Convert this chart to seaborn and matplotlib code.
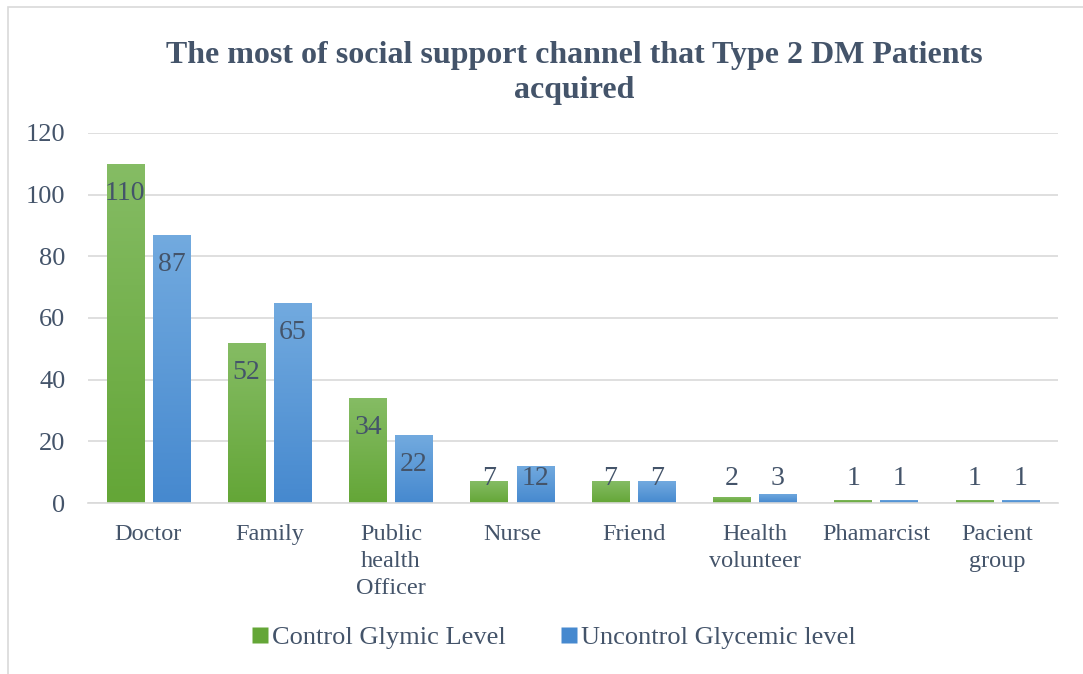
import numpy as np
import pandas as pd
import matplotlib
matplotlib.use("Agg")
import matplotlib.pyplot as plt
import seaborn as sns
from matplotlib.patches import Rectangle
from matplotlib.lines import Line2D

categories = ["Doctor", "Family", "Public\nhealth\nOfficer", "Nurse", "Friend",
              "Health\nvolunteer", "Phamarcist", "Pacient\ngroup"]
control = [110, 52, 34, 7, 7, 2, 1, 1]
uncontrol = [87, 65, 22, 12, 7, 3, 1, 1]
series = ["Control Glymic Level", "Uncontrol Glycemic level"]
yticks = [0, 20, 40, 60, 80, 100, 120]
title = "The most of social support channel that Type 2 DM Patients\nacquired"

TXT = "#44546A"
sns.set_theme(style="white")
plt.rcParams["font.family"] = ["Liberation Serif", "DejaVu Serif"]

df = pd.DataFrame({
    "cat": categories * 2,
    "val": control + uncontrol,
    "series": [series[0]] * len(categories) + [series[1]] * len(categories),
})

fig = plt.figure(figsize=(10.83, 6.74), dpi=100)
ax = fig.add_axes([0.081, 0.2537, 0.896, 0.549])

grad = {series[0]: ("#85BC64", "#64A637"), series[1]: ("#72AADF", "#4689CF")}
sns.barplot(data=df, x="cat", y="val", hue="series", order=categories,
            hue_order=series, palette=[grad[series[0]][1], grad[series[1]][1]],
            width=0.76, ax=ax, legend=False, saturation=1, edgecolor="none")

ax.set_ylim(0, 120)
ax.set_xlim(-0.5, len(categories) - 0.5)
ax.set_yticks(yticks)
ax.yaxis.grid(True, color="#D9D9D9", linewidth=1.2)
ax.set_axisbelow(True)
for s in ["left", "right", "top"]:
    ax.spines[s].set_visible(False)
ax.spines["bottom"].set_color("#D9D9D9")
ax.spines["bottom"].set_linewidth(1.2)
ax.tick_params(axis="both", length=0, colors=TXT)
ax.tick_params(axis="y", labelsize=19, pad=16)
ax.tick_params(axis="x", labelsize=17.5, pad=15)
ax.set_xlabel("")
ax.set_ylabel("")
ax.set_xticks(range(len(categories)))
ax.set_xticklabels(categories, color=TXT, fontsize=17.5, linespacing=1.38, va="top")

n = len(categories)
for i, p in enumerate(ax.patches):
    cx = p.get_x() + p.get_width() / 2
    w = 0.31
    p.set_x(cx - w / 2)
    p.set_width(w)
    s = series[0] if i < n else series[1]
    top_c, bot_c = grad[s]
    h = p.get_height()
    if h <= 0:
        continue
    cmap = matplotlib.colors.LinearSegmentedColormap.from_list("g", [bot_c, top_c])
    im = ax.imshow(np.linspace(0, 1, 100).reshape(-1, 1), cmap=cmap, aspect="auto",
                   extent=(cx - w / 2, cx + w / 2, 0, h), origin="lower", zorder=2)
    im.set_clip_path(p)
    ly = max(h - 9.6, 8.1)
    ax.text(cx, ly, f"{int(h)}", ha="center", va="center", fontsize=20, color=TXT, zorder=3)
ax.set_xlim(-0.5, len(categories) - 0.5)
ax.set_ylim(0, 120)

fig.text(0.53, 0.892, title, ha="center", va="center", fontsize=23, fontweight="bold",
         color=TXT, linespacing=1.25)

handles = [Line2D([], [], marker="s", linestyle="none", markersize=11,
                  markerfacecolor=grad[s][1], markeredgecolor="none") for s in series]
fig.legend(handles, series, loc="center", bbox_to_anchor=(0.51, 0.054), ncol=2,
           frameon=False, fontsize=19, handletextpad=0.05, columnspacing=2.0,
           labelcolor=TXT, handlelength=0.8)

fig.patches.append(Rectangle((0.007, -0.05), 1.2, 1.04, transform=fig.transFigure,
                             fill=False, edgecolor="#D9D9D9", linewidth=1.2))

fig.savefig("out.png", dpi=100)
